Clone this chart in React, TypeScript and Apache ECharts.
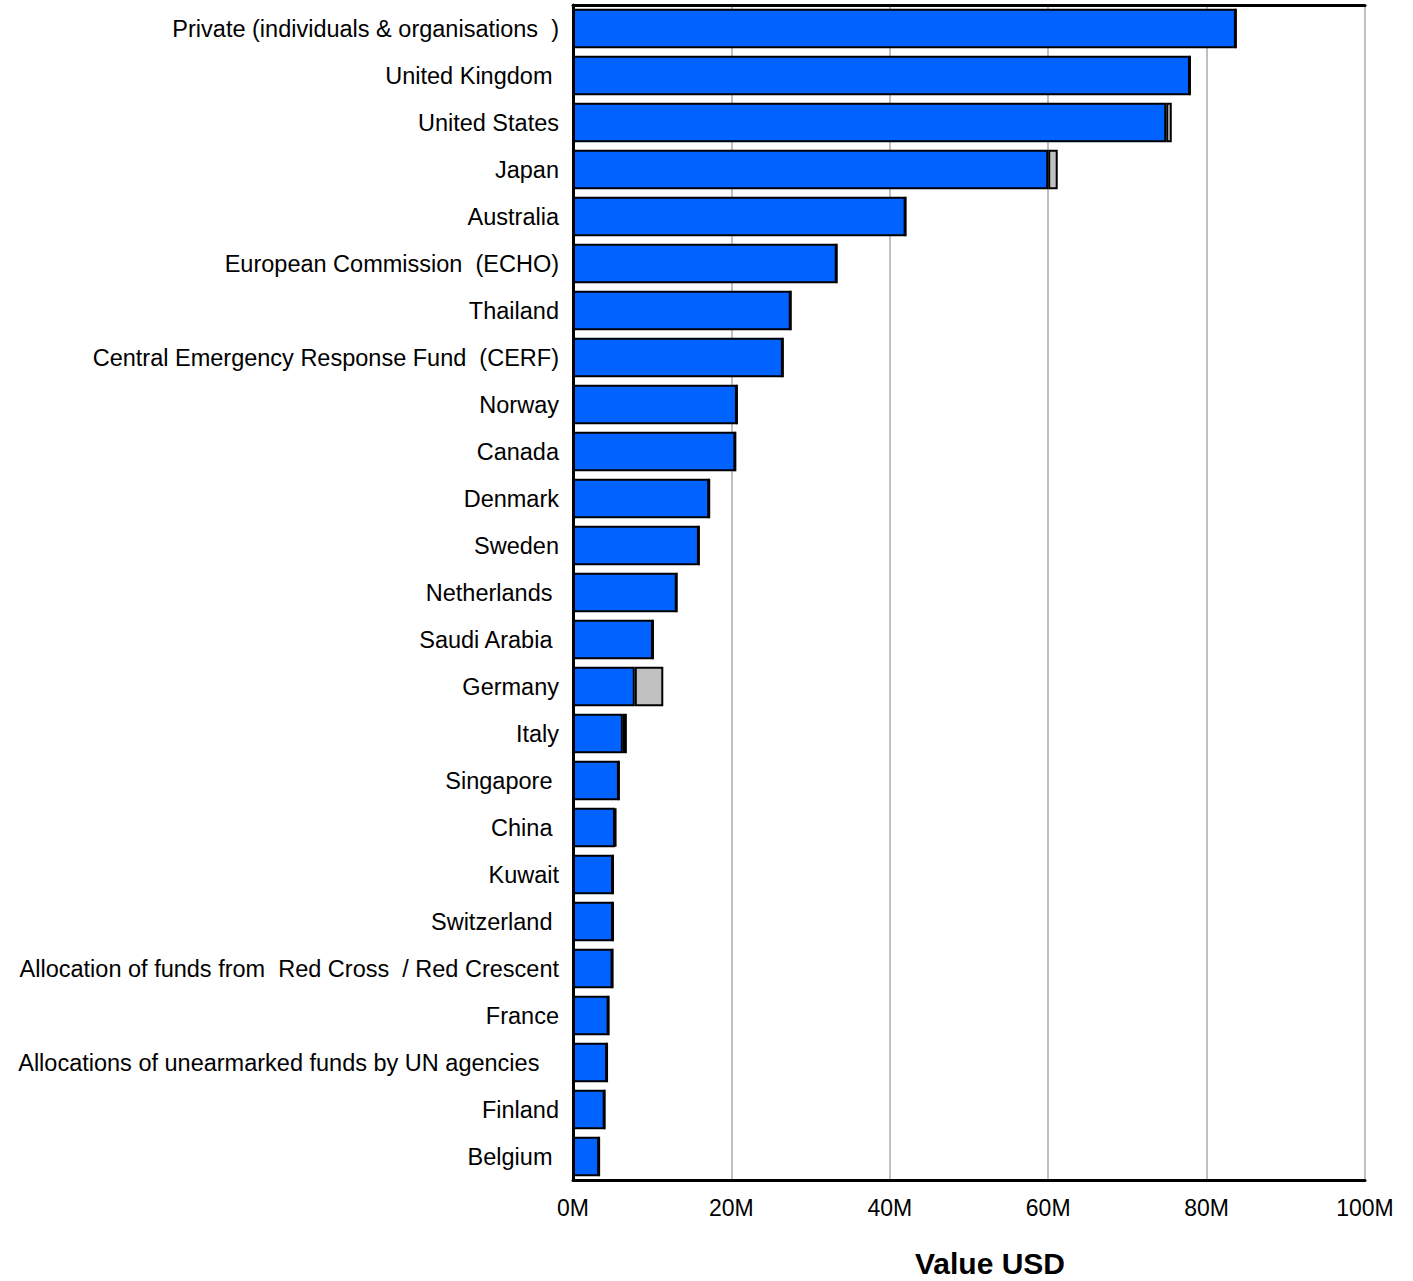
import React, { useEffect, useRef } from "react";
import * as echarts from "echarts";

const categories = [
  "Private (individuals & organisations  )",
  "United Kingdom ",
  "United States",
  "Japan",
  "Australia",
  "European Commission  (ECHO)",
  "Thailand",
  "Central Emergency Response Fund  (CERF)",
  "Norway",
  "Canada",
  "Denmark",
  "Sweden",
  "Netherlands ",
  "Saudi Arabia ",
  "Germany",
  "Italy",
  "Singapore ",
  "China ",
  "Kuwait",
  "Switzerland ",
  "Allocation of funds from  Red Cross  / Red Crescent",
  "France",
  "Allocations of unearmarked funds by UN agencies   ",
  "Finland",
  "Belgium ",
];

const mainValues = [
  83.7, 77.9, 74.9, 60.0, 42.0, 33.3, 27.5, 26.5, 20.7, 20.5, 17.2, 15.9, 13.1,
  10.1, 7.8, 6.3, 5.8, 5.3, 5.05, 5.05, 5.0, 4.5, 4.3, 4.0, 3.3,
];

const extraValues = [
  0, 0, 0.7, 1.2, 0, 0, 0, 0, 0, 0, 0, 0, 0, 0, 3.6, 0.5, 0, 0.15, 0, 0, 0, 0,
  0, 0, 0,
];

const xTickValues = [0, 20, 40, 60, 80, 100];

export default function App() {
  const ref = useRef<HTMLDivElement>(null);
  useEffect(() => {
    if (!ref.current) return;
    const chart = echarts.init(ref.current, undefined, { renderer: "svg" });
    const font = "Liberation Sans, Arial, sans-serif";
    chart.setOption({
      animation: false,
      backgroundColor: "#ffffff",
      grid: {
        left: 573,
        right: 48,
        top: 5,
        bottom: 101,
        containLabel: false,
        outerBoundsMode: "none",
      },
      xAxis: [
        {
          type: "value",
          min: xTickValues[0],
          max: xTickValues[xTickValues.length - 1],
          interval: 20,
          position: "bottom",
          axisLine: { show: true, lineStyle: { color: "#000", width: 3 } },
          axisTick: { show: false },
          splitLine: { show: true, lineStyle: { color: "#c0c0c0", width: 2 } },
          axisLabel: {
            fontSize: 23,
            color: "#000",
            fontFamily: font,
            margin: 16,
            formatter: (v: number) => `${v}M`,
          },
          name: "Value USD",
          nameLocation: "middle",
          nameGap: 68,
          nameTextStyle: {
            fontSize: 30,
            fontWeight: "bold",
            color: "#000",
            fontFamily: font,
            padding: [0, 0, 0, 42],
          },
        },
        {
          type: "value",
          min: 0,
          max: 100,
          interval: 20,
          position: "top",
          axisLine: { show: true, lineStyle: { color: "#000", width: 3 } },
          axisTick: { show: false },
          axisLabel: { show: false },
          splitLine: { show: false },
        },
      ],
      yAxis: {
        type: "category",
        data: categories,
        inverse: true,
        axisLine: { show: true, lineStyle: { color: "#000", width: 3 } },
        axisTick: { show: false },
        axisLabel: {
          fontSize: 23.5,
          color: "#000",
          fontFamily: font,
          margin: 14,
        },
      },
      series: [
        {
          type: "bar",
          stack: "total",
          xAxisIndex: 0,
          data: mainValues,
          barCategoryGap: "16%",
          itemStyle: { color: "#0062ff", borderColor: "#000", borderWidth: 2 },
        },
        {
          type: "bar",
          stack: "total",
          xAxisIndex: 0,
          data: extraValues,
          itemStyle: { color: "#c0c0c0", borderColor: "#000", borderWidth: 2 },
        },
      ],
    });
    return () => chart.dispose();
  }, []);
  return (
    <div
      ref={ref}
      style={{ position: "absolute", left: 0, top: 0, width: 1413, height: 1281 }}
    />
  );
}
